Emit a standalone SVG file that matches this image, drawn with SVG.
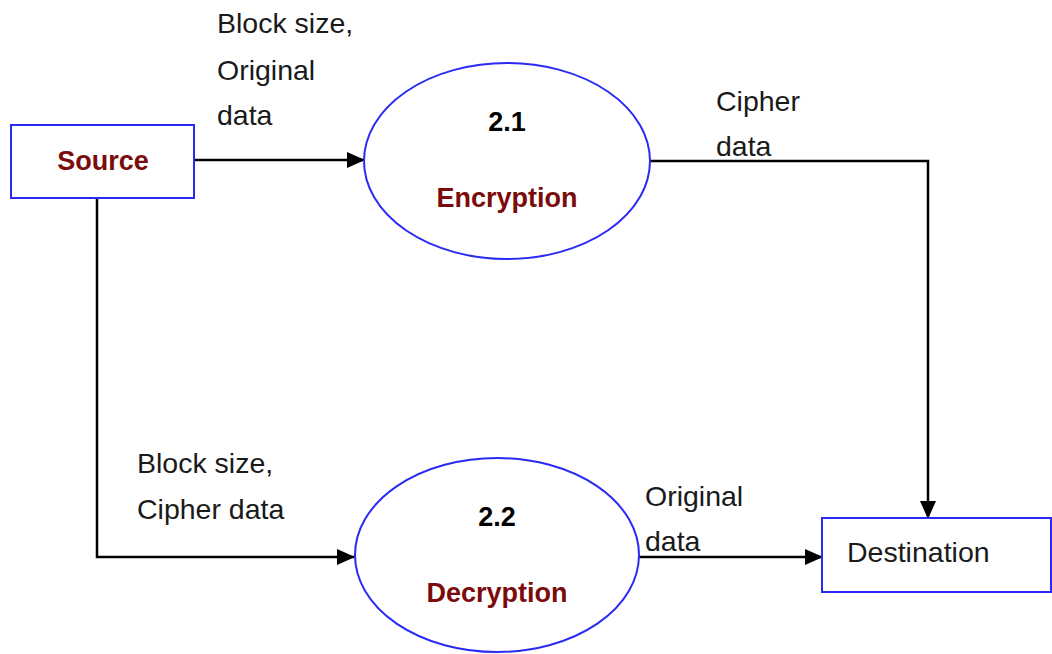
<svg xmlns="http://www.w3.org/2000/svg" width="1052" height="654" viewBox="0 0 1052 654">
<style>
.box{fill:#fff;stroke:#2a2af5;stroke-width:2}
.proc{fill:#fff;stroke:#2a2af5;stroke-width:2}
.lbl{font-family:"Liberation Sans",Arial,sans-serif;font-size:28.5px;fill:#1a1a1a}
.bold{font-family:"Liberation Sans",Arial,sans-serif;font-size:27px;font-weight:bold}
.red{fill:#7a0c0c}
.num{fill:#000}
.wire{fill:none;stroke:#000;stroke-width:2.5}
</style>
<defs>
<marker id="ah" markerWidth="18" markerHeight="16" refX="17" refY="8" orient="auto" markerUnits="userSpaceOnUse">
<path d="M0,0 L18,8 L0,16 Z" fill="#000"/>
</marker>
</defs>
<g id="connectors">
<line class="wire" x1="194" y1="160" x2="364" y2="160" stroke-width="3.5" marker-end="url(#ah)"/>
<polyline class="wire" points="97,199 97,557 354,557" marker-end="url(#ah)"/>
<polyline class="wire" points="650,161 928,161 928,518" marker-end="url(#ah)"/>
<line class="wire" x1="639" y1="557" x2="822" y2="557" stroke-width="3" marker-end="url(#ah)"/>
</g>
<g id="labels">
<text class="lbl" x="217" y="33">Block size,</text>
<text class="lbl" x="217" y="80">Original</text>
<text class="lbl" x="217" y="125">data</text>
<text class="lbl" x="716" y="111">Cipher</text>
<text class="lbl" x="716" y="156">data</text>
<text class="lbl" x="137" y="473">Block size,</text>
<text class="lbl" x="137" y="519">Cipher data</text>
<text class="lbl" x="645" y="506">Original</text>
<text class="lbl" x="645" y="551">data</text>
</g>
<g id="source">
<rect class="box" x="11" y="125" width="183" height="73"/>
<text class="bold red" x="103" y="170" text-anchor="middle">Source</text>
</g>
<g id="encryption">
<ellipse class="proc" cx="507" cy="161" rx="143" ry="98"/>
<text class="bold num" x="507" y="131" text-anchor="middle">2.1</text>
<text class="bold red" x="507" y="207" text-anchor="middle">Encryption</text>
</g>
<g id="decryption">
<ellipse class="proc" cx="497" cy="555" rx="142" ry="97"/>
<text class="bold num" x="497" y="526" text-anchor="middle">2.2</text>
<text class="bold red" x="497" y="602" text-anchor="middle">Decryption</text>
</g>
<g id="destination">
<rect class="box" x="822" y="518" width="229" height="74"/>
<text class="lbl" x="847" y="562" font-size="30">Destination</text>
</g>
</svg>
